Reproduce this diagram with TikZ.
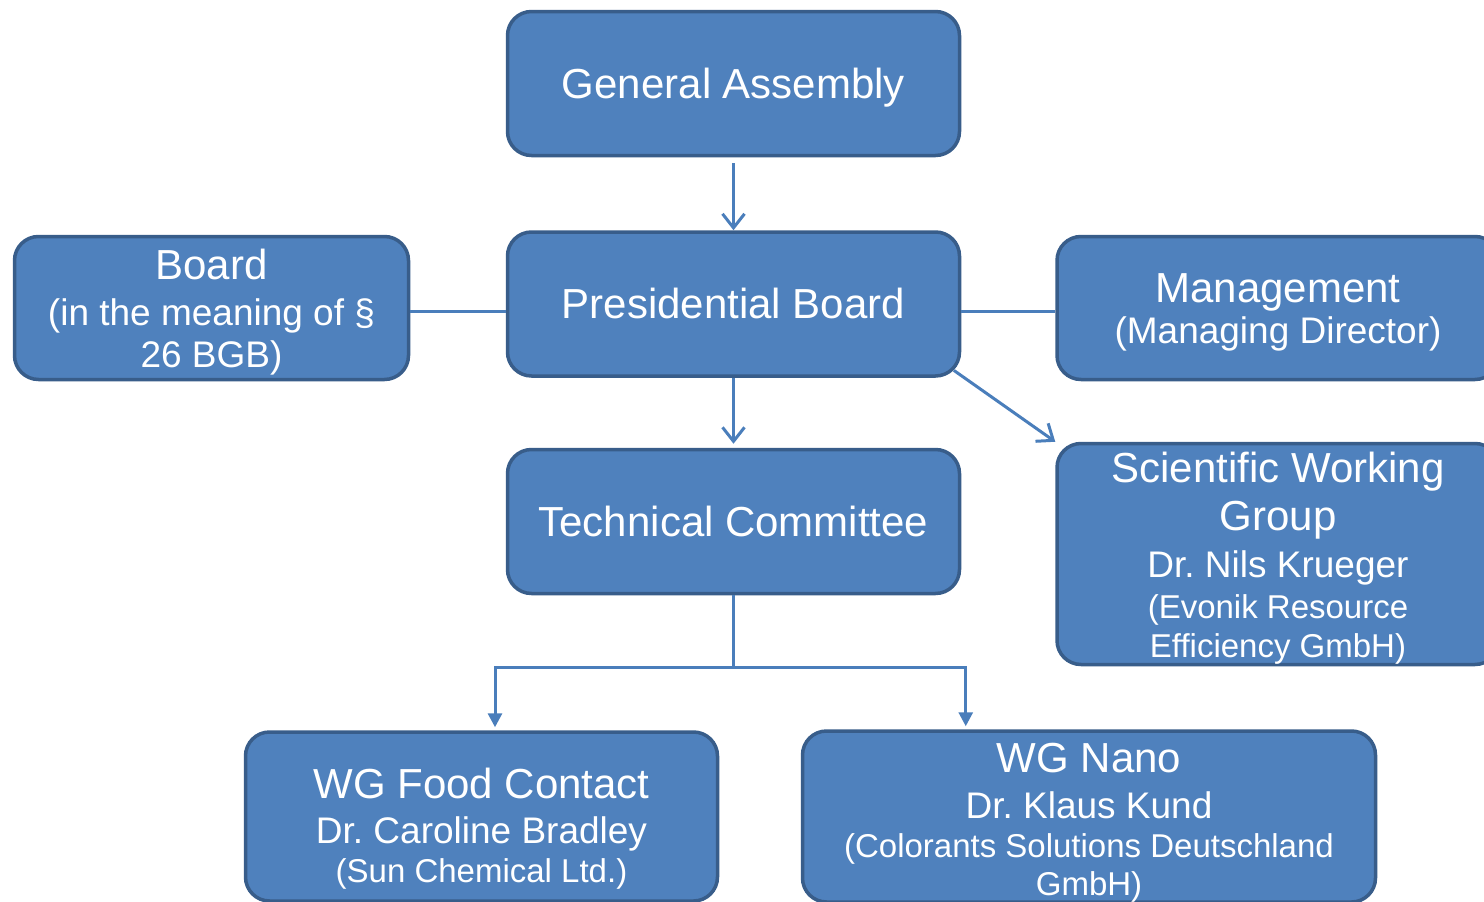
\documentclass[tikz,border=0pt]{standalone}
\usepackage{fontspec}
\setmainfont{Liberation Sans}
\usetikzlibrary{positioning,calc,arrows.meta}
\frenchspacing

\definecolor{boxfill}{HTML}{4F81BD}
\definecolor{boxline}{HTML}{385D8A}
\definecolor{linkcol}{HTML}{4A7EBB}

\newcommand{\titlesize}{\fontsize{42}{38}\selectfont\lineskiplimit=-100pt\relax}
\newcommand{\namesize}{\fontsize{37}{38}\selectfont}
\newcommand{\firmsize}{\fontsize{33}{38}\selectfont}
\newcommand{\hstrut}[1]{\rule{0pt}{#1}}
\newcommand{\dstrut}[1]{\rule[-#1]{0pt}{0pt}}

\tikzset{
  orgbox/.style={draw=boxline, fill=boxfill, line width=3.5pt,
    rounded corners=24pt, text=white, align=center, inner sep=0pt,
    font=\titlesize},
  oneline/.style={text height=38pt, text depth=9pt},
  link/.style={draw=linkcol, line width=3pt},
  openarrow/.style={link, -{Straight Barb[length=14pt,width=22pt]}},
  fillarrow/.style={link, -{Triangle[length=14pt,width=14pt]}}
}

\begin{document}
\begin{tikzpicture}[x=1pt, y=-1pt]
  \path[use as bounding box] (0,0) rectangle (1484,902);
  \fill[white] (0,0) rectangle (1484,902);
  \clip (0,0) rectangle (1484,902);

  % top of the chart
  \node[orgbox, oneline, minimum width=452pt, minimum height=144pt] (ga) at (733.5,83.5)
    {General Assembly};
  \node[orgbox, oneline, minimum width=452pt, minimum height=144pt] (pb) at (733.5,304)
    {Presidential Board};
  \node[orgbox, minimum width=394pt, minimum height=143pt] (board) at (211.5,308)
    {\hstrut{38pt}Board\\[8pt]\namesize (in the meaning of §\\[4pt]
     \namesize 26 BGB)\dstrut{8pt}};
  \node[orgbox, minimum width=442pt, minimum height=143pt] (mgmt) at (1278,308)
    {\hstrut{38pt}Management\\[3pt]\namesize (Managing Director)\dstrut{8pt}};

  % committees and working groups
  \node[orgbox, oneline, minimum width=452pt, minimum height=144pt] (tc) at (733.5,521.5)
    {Technical Committee};
  \node[orgbox, minimum width=442pt, minimum height=221pt] (swg) at (1278,554)
    {\hstrut{38pt}Scientific Working\\[10pt]Group\\[9pt]\namesize Dr. Nils Krueger\\[3pt]
     \firmsize (Evonik Resource\\[1pt]\firmsize Efficiency GmbH)\dstrut{7pt}};
  \node[orgbox, minimum width=472pt, minimum height=169pt] (food) at (481.5,816.5)
    {\hstrut{54pt}WG Food Contact\\[7pt]\namesize Dr. Caroline Bradley\\[1pt]
     \firmsize (Sun Chemical Ltd.)\dstrut{7pt}};
  \node[orgbox, minimum width=573pt, minimum height=169pt] (nano) at (1089,816.5)
    {\hstrut{41pt}WG Nano\\[8pt]\namesize Dr. Klaus Kund\\[1pt]
     \firmsize (Colorants Solutions Deutschland\\\firmsize GmbH)\dstrut{7pt}};

  % connectors
  \draw[openarrow, shorten <=6pt] (ga.south) -- (pb.north);
  \draw[link] ([yshift=-3pt]board.east) -- ([yshift=-3pt]board.east -| pb.west);
  \draw[link] ([yshift=-7pt]pb.east) -- ([yshift=-7pt]pb.east -| mgmt.west);
  \draw[openarrow, shorten >=4pt] (pb.south) -- (tc.north);
  \draw[openarrow] ($(pb.south east)+(-7.3,-7.3)$) -- (swg.north west);
  \draw[link] (tc.south) -- ++(0,72) coordinate (split);
  \draw[fillarrow, shorten >=3pt] (split) -| ([xshift=13.5pt]food.north);
  \draw[fillarrow, shorten >=3pt] (split) -| ([xshift=165pt]nano.north west);
\end{tikzpicture}
\end{document}
